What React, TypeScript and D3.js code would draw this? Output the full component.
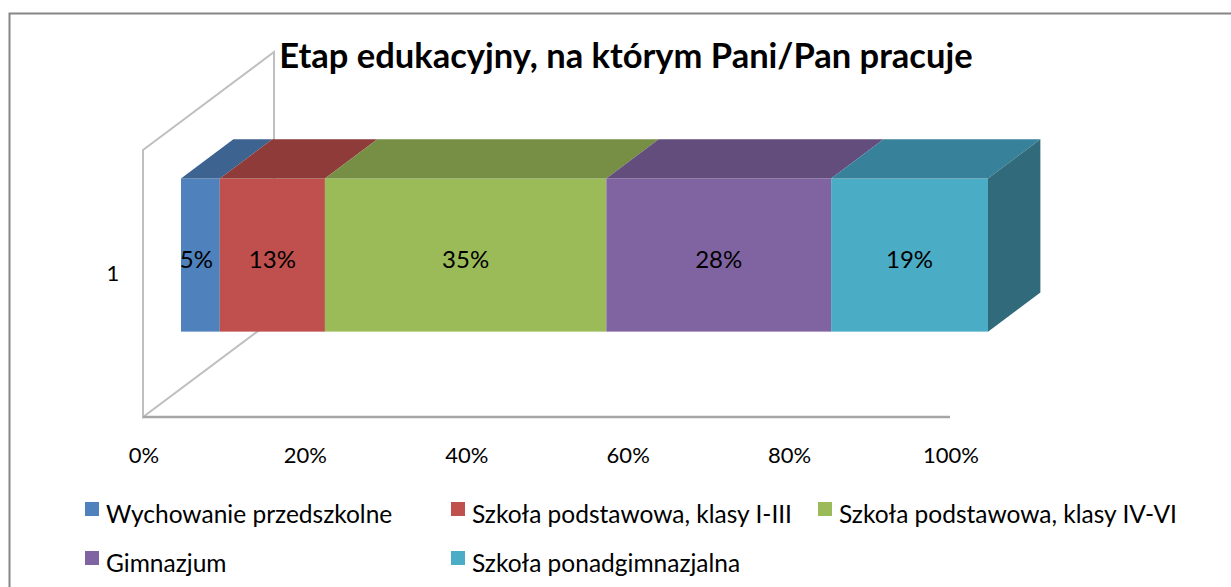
import React from "react";
import * as d3 from "d3";

const categories = ["1"];
const seriesNames = [
  "Wychowanie przedszkolne",
  "Szkoła podstawowa, klasy I-III",
  "Szkoła podstawowa, klasy IV-VI",
  "Gimnazjum",
  "Szkoła ponadgimnazjalna",
];
const seriesValues = [4.8, 13.0, 34.8, 27.8, 19.4];
const xTicks = [0, 20, 40, 60, 80, 100];

const frontColors = ["#4F81BD", "#C0504D", "#9BBB59", "#8064A2", "#4BACC6"];
const topColors = ["#3D6390", "#8E3B39", "#778E45", "#624D7D", "#38819A"];
const sideColor = "#316B7B";

const W = 1231;
const H = 587;
const font = "Lato, 'Open Sans', sans-serif";

// oblique 3d: depth vector for the whole floor
const depthX = 131;
const depthY = -98;
const barFront = 0.29; // fraction of depth where bar front sits
const barDepth = 0.4;

const App = () => {
  const total = d3.sum(seriesValues);
  const shares = seriesValues.map((v) => (v / total) * 100);
  const stacked = d3.cumsum([0, ...shares]);

  const x = d3.scaleLinear().domain([0, 100]).range([143, 950]);
  const y = d3
    .scaleBand()
    .domain(categories)
    .range([150, 417])
    .paddingInner(0)
    .paddingOuter(0.372);

  const fx = barFront * depthX;
  const fy = barFront * depthY;
  const bx = barDepth * depthX;
  const by = barDepth * depthY;
  const pct = d3.format(".0%");

  const wall: [number, number][] = [
    [x(0), 150],
    [x(0) + depthX, 150 + depthY],
    [x(0) + depthX, 417 + depthY],
    [x(0), 417],
  ];
  const line = d3.line();

  const legendCols = [85, 451, 818];
  const legendRows = [509, 558];

  return (
    <svg
      width={W}
      height={H}
      style={{ position: "absolute", left: 0, top: 0, background: "#fff" }}
      fontFamily={font}
    >
      <rect x={9.5} y={13.5} width={W + 20} height={H + 20} fill="#fff" stroke="#868686" strokeWidth={2} />

      {/* walls */}
      <path d={line(wall) + "Z"} fill="none" stroke="#BFBFBF" strokeWidth={2} />
      <line x1={x(0)} x2={x(100)} y1={417} y2={417} stroke="#A6A6A6" strokeWidth={2.5} />

      <text
        x={626}
        y={68}
        textAnchor="middle"
        fontWeight="bold"
        fontSize={34.5}
        fill="#000"
      >
        Etap edukacyjny, na którym Pani/Pan pracuje
      </text>

      {categories.map((c) => {
        const y0 = (y(c) as number) + fy;
        const y1 = y0 + y.bandwidth();
        return (
          <g key={c}>
            <text x={113} y={y(c)! + y.bandwidth() / 2 - 11} textAnchor="middle" dominantBaseline="central" fontSize={22}>
              {c}
            </text>
            {shares.map((s, i) => {
              const a = x(stacked[i]) + fx;
              const b = x(stacked[i + 1]) + fx;
              const top: [number, number][] = [
                [a, y0],
                [b, y0],
                [b + bx, y0 + by],
                [a + bx, y0 + by],
              ];
              return (
                <g key={i}>
                  <rect x={a} y={y0} width={b - a} height={y1 - y0} fill={frontColors[i]} />
                  <path d={line(top) + "Z"} fill={topColors[i]} />
                </g>
              );
            })}
            {(() => {
              const b = x(100) + fx;
              const side: [number, number][] = [
                [b, y0],
                [b + bx, y0 + by],
                [b + bx, y1 + by],
                [b, y1],
              ];
              return <path d={line(side) + "Z"} fill={sideColor} />;
            })()}
            {shares.map((s, i) => (
              <text
                key={"l" + i}
                x={(x(stacked[i]) + x(stacked[i + 1])) / 2 + fx - (i === 0 ? 4 : 0)}
                y={(y0 + y1) / 2 + 3}
                textAnchor="middle"
                dominantBaseline="central"
                fontSize={24}
                fill="#000"
              >
                {pct(s / 100)}
              </text>
            ))}
          </g>
        );
      })}

      {xTicks.map((t) => (
        <text key={t} x={x(t) + 1} y={454} textAnchor="middle" dominantBaseline="central" fontSize={22}>
          {t + "%"}
        </text>
      ))}

      {seriesNames.map((n, i) => {
        const cx = legendCols[i % 3];
        const cy = legendRows[Math.floor(i / 3)];
        return (
          <g key={n}>
            <rect x={cx} y={cy - 7} width={14} height={14} fill={frontColors[i]} />
            <text x={cx + 21} y={cy + 4} dominantBaseline="central" fontSize={24.5}>
              {n}
            </text>
          </g>
        );
      })}
    </svg>
  );
};

export default App;
